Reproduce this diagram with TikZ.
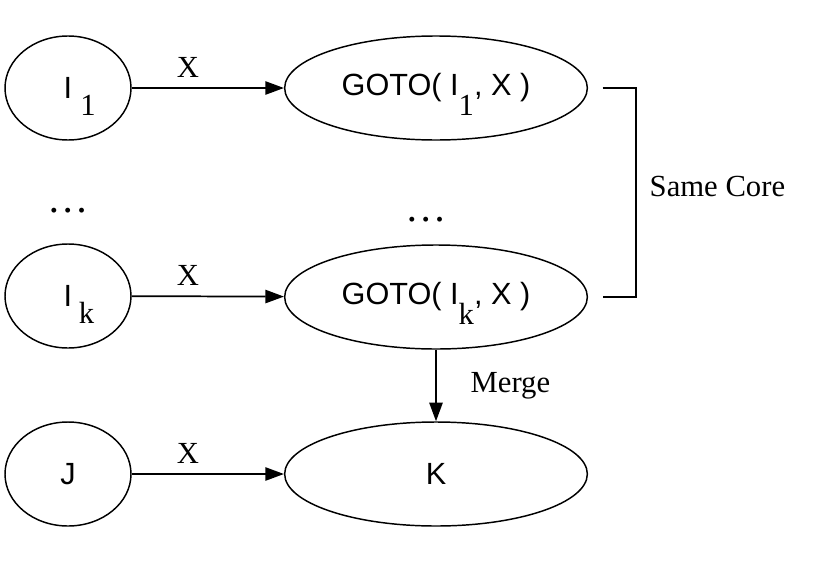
\documentclass[tikz,border=0pt]{standalone}
\usepackage{fontspec}
\setmainfont{Liberation Serif}
\newfontfamily\helv{Liberation Sans}
\usepackage{tikz}
\usetikzlibrary{positioning,shapes.geometric,arrows.meta}

\newcommand{\lowsub}[2][15pt]{\smash{\raisebox{-#1}{\rmfamily #2}}}

\begin{document}
\begin{tikzpicture}[x=0.75pt,y=-0.75pt,
    font=\fontsize{23}{27}\selectfont,
    small/.style={ellipse,draw,line width=1.1pt,inner sep=0pt,minimum width=94.5pt,minimum height=78pt,font=\fontsize{23}{27}\selectfont\helv},
    big/.style={ellipse,draw,line width=1.1pt,inner sep=0pt,minimum width=227pt,minimum height=78pt,font=\fontsize{23}{27}\selectfont\helv},
    dots/.style={font=\fontsize{31}{35}\selectfont},
    arr/.style={line width=1.3pt,-{Triangle[length=14pt,width=10pt]}}]
    \useasboundingbox (0,0) rectangle (816,564);
    % left column
    \node [small] (i1) at (68,88) {I\rlap{\kern6pt\lowsub[12.75pt]{1}}};
    \node [dots] (dl) at (68,211) {\ldots};
    \node [small] (ik) at (68,296) {I\rlap{\kern5pt\lowsub[12.75pt]{k}}};
    \node [small] (j) at (68,474) {J};
    % right column
    \node [big] (g1) at (436,88) {GOTO( I\lowsub{1}, X )};
    \node [dots] (dr) at (426,220) {\ldots};
    \node [big] (gk) at (436,297) {GOTO( I\lowsub{k}, X )};
    \node [big] (k) at (436,474) {K};
    % transitions
    \draw[arr] (i1) -- (g1) node[pos=0.37,above=4pt] {X};
    \draw[arr] (ik) -- (gk) node[pos=0.37,above=4pt] {X};
    \draw[arr] (j) -- (k) node[pos=0.37,above=4pt] {X};
    \draw[arr] (gk) -- (k) node[midway,right=22pt] {Merge};
    % bracket
    \draw[line width=1.1pt] ([xshift=11pt]g1.east) -- ++(25pt,0) |- ([xshift=11pt]gk.east);
    \node [anchor=west] (core) at (645,186) {Same Core};
\end{tikzpicture}
\end{document}
